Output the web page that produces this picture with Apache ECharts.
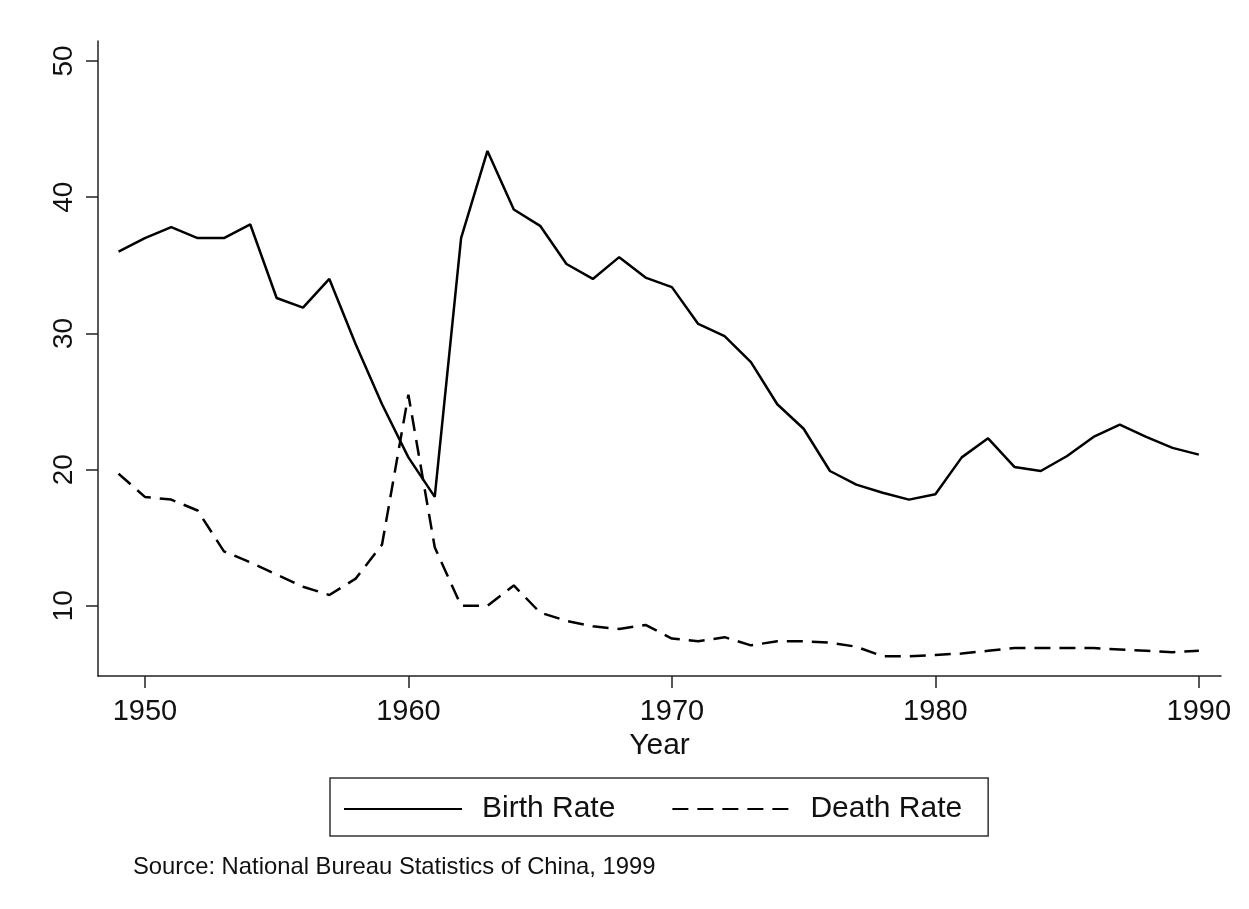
<!DOCTYPE html>
<html>
<head>
<meta charset="UTF-8">
<title>Birth and Death Rate, China 1949-1990</title>
<script src="https://cdn.jsdelivr.net/npm/echarts@6/dist/echarts.min.js"></script>
<style>
  html, body { margin: 0; padding: 0; background: #fff; }
  #container { width: 1249px; height: 909px; }
</style>
</head>
<body>
<div id="container"></div>
<script>
// years 1949 - 1990
var years = [];
for (var y = 1949; y <= 1990; y++) years.push(y);

// births per 1000
var birthRate = [36.0, 37.0, 37.8, 37.0, 37.0, 38.0, 32.6, 31.9, 34.0, 29.2,
                 24.8, 20.9, 18.0, 37.0, 43.4, 39.1, 37.9, 35.1, 34.0, 35.6,
                 34.1, 33.4, 30.7, 29.8, 27.9, 24.8, 23.0, 19.9, 18.9, 18.3,
                 17.8, 18.2, 20.9, 22.3, 20.2, 19.9, 21.0, 22.4, 23.3, 22.4,
                 21.6, 21.1];

// deaths per 1000
var deathRate = [19.7, 18.0, 17.8, 17.0, 14.0, 13.2, 12.3, 11.4, 10.8, 12.0,
                 14.5, 25.5, 14.3, 10.0, 10.0, 11.5, 9.5, 8.9, 8.5, 8.3,
                 8.6, 7.6, 7.4, 7.7, 7.1, 7.4, 7.4, 7.3, 7.0, 6.3,
                 6.3, 6.4, 6.5, 6.7, 6.9, 6.9, 6.9, 6.9, 6.8, 6.7,
                 6.6, 6.7];

var xTicks = [1950, 1960, 1970, 1980, 1990];
var yTicks = [10, 20, 30, 40, 50];

function pairs(vals) {
    var out = [];
    for (var i = 0; i < years.length; i++) out.push([years[i], vals[i]]);
    return out;
}

var font = 'Liberation Sans, Arial, Helvetica, sans-serif';
var axisColor = '#222';

var chart = echarts.init(document.getElementById('container'), null, { renderer: 'canvas' });

var option = {
    backgroundColor: '#fff',
    animation: false,
    grid: { left: 98, right: 28, top: 41, bottom: 233, containLabel: false },
    xAxis: {
        type: 'value',
        min: 1948.22,
        max: 1990.84,
        name: 'Year',
        nameLocation: 'middle',
        nameGap: 53,
        nameTextStyle: { fontFamily: font, fontSize: 30, color: '#111' },
        axisLine: { show: true, onZero: false, lineStyle: { color: axisColor, width: 1.5 } },
        axisTick: { show: true, length: 12, customValues: xTicks, lineStyle: { color: axisColor, width: 1.5 } },
        axisLabel: {
            customValues: xTicks, margin: 21, fontFamily: font, fontSize: 29, color: '#111',
            formatter: function (v) { return String(v); }
        },
        splitLine: { show: false }
    },
    yAxis: {
        type: 'value',
        min: 4.85,
        max: 51.47,
        axisLine: { show: true, onZero: false, lineStyle: { color: axisColor, width: 1.5 } },
        axisTick: { show: true, length: 12, customValues: yTicks, lineStyle: { color: axisColor, width: 1.5 } },
        axisLabel: { customValues: yTicks, rotate: 90, margin: 20, fontFamily: font, fontSize: 28, color: '#111' },
        splitLine: { show: false }
    },
    legend: {
        data: ['Birth Rate', 'Death Rate'],
        left: 330,
        top: 778,
        orient: 'horizontal',
        itemWidth: 118,
        itemHeight: 4,
        itemGap: 56,
        padding: [16, 26, 12, 13],
        borderColor: '#333',
        borderWidth: 1.5,
        backgroundColor: '#fff',
        itemStyle: { opacity: 0 },
        textStyle: { fontFamily: font, fontSize: 30, color: '#111', padding: [0, 0, 0, 15] }
    },
    graphic: [{
        type: 'text',
        left: 133,
        top: 855,
        style: {
            text: 'Source: National Bureau Statistics of China, 1999',
            font: '23.8px ' + font,
            fill: '#111'
        }
    }],
    series: [{
        name: 'Birth Rate',
        type: 'line',
        data: pairs(birthRate),
        symbol: 'none',
        color: '#000',
        lineStyle: { color: '#000', width: 2.5 }
    }, {
        name: 'Death Rate',
        type: 'line',
        data: pairs(deathRate),
        symbol: 'none',
        color: '#000',
        lineStyle: { color: '#000', width: 2.5, type: [16, 9] }
    }]
};

chart.setOption(option);
</script>
</body>
</html>
